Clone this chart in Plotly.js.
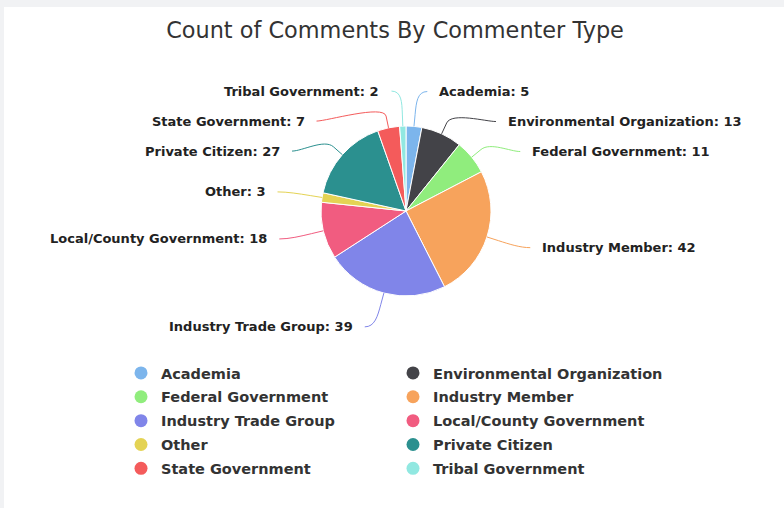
<!DOCTYPE html>
<html>
<head>
<meta charset="utf-8">
<script src="https://cdn.plot.ly/plotly-3.0.1.min.js"></script>
<style>html,body{margin:0;padding:0;background:#fff;}#chart{width:784px;height:508px;}</style>
</head>
<body>
<div id="chart"></div>
<script>
// ---- data ----
var categories = ["Academia", "Environmental Organization", "Federal Government", "Industry Member",
  "Industry Trade Group", "Local/County Government", "Other", "Private Citizen",
  "State Government", "Tribal Government"];
var counts = [5, 13, 11, 42, 39, 18, 3, 27, 7, 2];
var colors = ["#7cb5ec", "#434348", "#90ed7d", "#f7a35c", "#8085e9", "#f15c80",
  "#e4d354", "#2b908f", "#f45b5b", "#91e8e1"];
var chartTitle = "Count of Comments By Commenter Type";

// ---- geometry (pixels) ----
var W = 784, H = 508;
var CX = 406, CY = 211, R = 85;      // pie centre / radius
var LR = 120;                         // label ring radius
var MINGAP = 30;                      // min vertical distance between labels
var PAD_LINE = 10, PAD_TEXT = 20;
function px(x) { return x / W; }
function py(y) { return 1 - y / H; }

var total = counts.reduce(function (a, b) { return a + b; }, 0);
var cum = 0, labels = [];
counts.forEach(function (v, i) {
  var mid = (cum + v / 2) / total * 2 * Math.PI;  // from top, clockwise
  cum += v;
  labels.push({
    i: i, ang: mid,
    left: Math.sin(mid) < 0,
    y: CY - LR * Math.cos(mid)
  });
});
// distribute labels on each side (push downward)
[true, false].forEach(function (side) {
  var s = labels.filter(function (l) { return l.left === side; })
    .sort(function (a, b) { return a.y - b.y; });
  for (var k = 1; k < s.length; k++) {
    if (s[k].y - s[k - 1].y < MINGAP) s[k].y = s[k - 1].y + MINGAP;
  }
});

var annotations = [], shapes = [];
shapes.push({type: "rect", xref: "paper", yref: "paper", x0: 0, x1: 1, y0: py(7), y1: 1,
  fillcolor: "#f1f2f4", line: {width: 0}, layer: "below"});
shapes.push({type: "rect", xref: "paper", yref: "paper", x0: 0, x1: px(4), y0: 0, y1: 1,
  fillcolor: "#f1f2f4", line: {width: 0}, layer: "below"});

labels.forEach(function (l) {
  var sg = l.left ? -1 : 1;
  var dy = Math.max(-LR, Math.min(LR, l.y - CY));
  var ax = CX + sg * Math.sqrt(LR * LR - dy * dy);
  var bx = CX + R * Math.sin(l.ang), by = CY - R * Math.cos(l.ang);
  var b2x = CX + (R + 12) * Math.sin(l.ang), b2y = CY - (R + 12) * Math.cos(l.ang);
  var sx = ax + sg * PAD_LINE;
  var c2x = 2 * b2x - bx, c2y = 2 * b2y - by;
  var path = "M" + px(sx) + "," + py(l.y) +
    " C" + px(ax) + "," + py(l.y) + " " + px(c2x) + "," + py(c2y) + " " + px(b2x) + "," + py(b2y) +
    " L" + px(bx) + "," + py(by);
  shapes.push({type: "path", xref: "paper", yref: "paper", path: path,
    line: {color: colors[l.i], width: 1}});
  annotations.push({
    xref: "paper", yref: "paper",
    x: px(ax + sg * PAD_TEXT), y: py(l.y),
    xanchor: l.left ? "right" : "left", yanchor: "middle",
    showarrow: false,
    text: categories[l.i] + ": " + counts[l.i],
    font: {family: "DejaVu Sans", size: 13, color: "#222", weight: 700}
  });
});

var traces = [{
  type: "pie",
  labels: categories,
  values: counts,
  sort: false,
  direction: "clockwise",
  rotation: 0,
  marker: {colors: colors, line: {color: "#ffffff", width: 1}},
  textinfo: "none",
  hoverinfo: "label+value",
  showlegend: false,
  domain: {x: [px(CX - R), px(CX + R)], y: [py(CY + R), py(CY - R)]}
}];
categories.forEach(function (c, i) {
  traces.push({
    type: "scatter", mode: "markers", x: [null], y: [null], name: c,
    legend: (i % 2 === 0) ? "legend" : "legend2",
    legendgroup: "g" + i,
    marker: {color: colors[i], size: 13, symbol: "circle"},
    hoverinfo: "skip", showlegend: true
  });
});

var legendFont = {family: "DejaVu Sans", size: 14.5, color: "#333333", weight: 700};
var layout = {
  width: W, height: H,
  margin: {l: 0, r: 0, t: 0, b: 0},
  paper_bgcolor: "#ffffff", plot_bgcolor: "rgba(0,0,0,0)",
  title: {text: chartTitle, x: px(395), xanchor: "center", y: py(30), yanchor: "middle",
    font: {family: "DejaVu Sans", size: 22.4, color: "#333333"}},
  xaxis: {visible: false}, yaxis: {visible: false},
  showlegend: true,
  legend: {
    orientation: "v", x: px(121), xanchor: "left", y: py(357), yanchor: "top",
    tracegroupgap: 2, font: legendFont, bgcolor: "rgba(0,0,0,0)"
  },
  legend2: {
    orientation: "v", x: px(393), xanchor: "left", y: py(357), yanchor: "top",
    tracegroupgap: 2, font: legendFont, bgcolor: "rgba(0,0,0,0)"
  },
  shapes: shapes,
  annotations: annotations
};
Plotly.newPlot("chart", traces, layout, {displayModeBar: false, staticPlot: true});
</script>
</body>
</html>
